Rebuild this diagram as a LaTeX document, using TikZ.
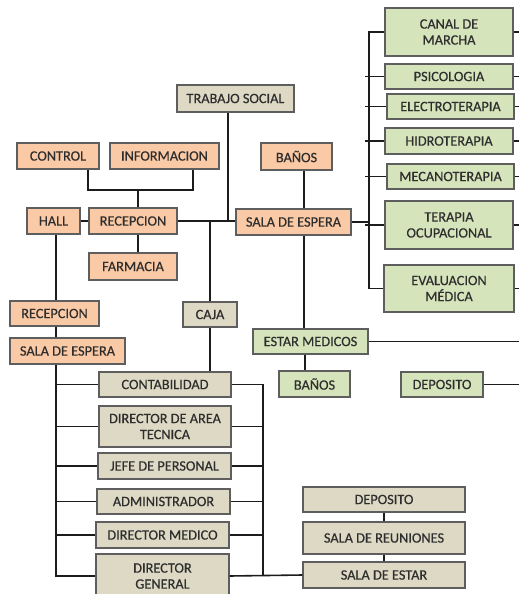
\documentclass[tikz,border=0pt]{standalone}
\usepackage{fontspec}
\setmainfont{Carlito}
\newfontfamily\boxfont{Carlito}[FakeBold=0.5]
\definecolor{orfill}{HTML}{FAC9A5}
\definecolor{grfill}{HTML}{D6E4BC}
\definecolor{tnfill}{HTML}{DDD9C4}
\definecolor{boxline}{HTML}{5E5E5E}
\definecolor{txt}{HTML}{2E2E2E}
\definecolor{wirec}{HTML}{1C1C1C}
\begin{document}
\begin{tikzpicture}[x=1pt,y=-1pt,
  box/.style={draw=boxline, line width=1.1pt, inner sep=0pt, align=center, text=txt,
    font=\boxfont\fontsize{14.3}{16}\selectfont},
  ob/.style={box, fill=orfill},
  gb/.style={box, fill=grfill},
  tb/.style={box, fill=tnfill},
  wire/.style={line width=1.6pt, draw=wirec}]
\useasboundingbox[fill=white] (0,0) rectangle (519,594);

% ---- orange boxes
\node[ob, minimum width=82pt, minimum height=26pt] (control) at (58,156) {CONTROL};
\node[ob, minimum width=109pt, minimum height=26pt] (info) at (164.5,156) {INFORMACION};
\node[ob, minimum width=71pt, minimum height=27pt] (banosA) at (296.5,156.5) {BAÑOS};
\node[ob, minimum width=53pt, minimum height=26pt] (hall) at (53.5,221) {HALL};
\node[ob, minimum width=88pt, minimum height=26pt] (recep) at (133,221) {RECEPCION};
\node[ob, minimum width=115pt, minimum height=26pt] (salaA) at (293.5,222) {SALA DE ESPERA};
\node[ob, minimum width=88pt, minimum height=27pt] (farm) at (133,266.5) {FARMACIA};
\node[ob, minimum width=89pt, minimum height=25pt] (recepB) at (54.5,313.5) {RECEPCION};
\node[ob, minimum width=115pt, minimum height=26pt] (salaB) at (67.5,351) {SALA DE ESPERA};

% ---- tan boxes
\node[tb, minimum width=117pt, minimum height=27pt] (trabajo) at (235.5,98.5) {TRABAJO SOCIAL};
\node[tb, minimum width=54pt, minimum height=25pt] (caja) at (210,314.5) {CAJA};
\node[tb, minimum width=132pt, minimum height=25pt] (contab) at (165,384.5) {CONTABILIDAD};
\node[tb, minimum width=132pt, minimum height=41pt] (areatec) at (165,426.5) {DIRECTOR DE AREA\\TECNICA};
\node[tb, minimum width=133pt, minimum height=26pt] (jefe) at (164.5,466) {JEFE DE PERSONAL};
\node[tb, minimum width=133pt, minimum height=25pt] (admin) at (163.5,501.5) {ADMINISTRADOR};
\node[tb, minimum width=133pt, minimum height=26pt] (dirmed) at (162.5,535) {DIRECTOR MEDICO};
\node[tb, minimum width=133pt, minimum height=44pt, text depth=0pt] (dirgen) at (162.5,576) {DIRECTOR\\GENERAL};
\node[tb, minimum width=162pt, minimum height=25pt] (depoB) at (384,499.5) {DEPOSITO};
\node[tb, minimum width=162pt, minimum height=32pt] (reun) at (384,538) {SALA DE REUNIONES};
\node[tb, minimum width=162pt, minimum height=26pt] (estar) at (384,575) {SALA DE ESTAR};

% ---- green boxes
\node[gb, minimum width=128pt, minimum height=48pt] (canal) at (449,32) {CANAL DE\\MARCHA};
\node[gb, minimum width=128pt, minimum height=25pt] (psico) at (449,76.5) {PSICOLOGIA};
\node[gb, minimum width=127pt, minimum height=25pt] (electro) at (450.5,106.5) {ELECTROTERAPIA};
\node[gb, minimum width=128pt, minimum height=26pt] (hidro) at (449,141) {HIDROTERAPIA};
\node[gb, minimum width=127pt, minimum height=25pt] (meca) at (450.5,176.5) {MECANOTERAPIA};
\node[gb, minimum width=128pt, minimum height=48pt] (terapia) at (449,225) {TERAPIA\\OCUPACIONAL};
\node[gb, minimum width=130pt, minimum height=47pt] (eval) at (449,288.5) {EVALUACION\\MÉDICA};
\node[gb, minimum width=115pt, minimum height=25pt] (estarmed) at (310.5,341.5) {ESTAR MEDICOS};
\node[gb, minimum width=71pt, minimum height=26pt] (banosB) at (314.5,384) {BAÑOS};
\node[gb, minimum width=82pt, minimum height=25pt] (depoA) at (442,384.5) {DEPOSITO};

% ---- junction coordinates
\coordinate (cA) at (88,190);
\coordinate (cB) at (193,190);
\coordinate (cR) at (138,190);
\coordinate (jT) at (228,222);
\coordinate (jC) at (210,222);
\coordinate (xS) at (304,0);
\coordinate (xE) at (305,0);
\coordinate (xL) at (56,0);
\coordinate (xR) at (263,0);
\coordinate (xM) at (384,0);
\coordinate (busTop) at (369,32);
\coordinate (busBot) at (369,288.5);
\coordinate (busMid) at (369,222);
\coordinate (edge) at (519,0);

% ---- connectors (left / centre)
\draw[wire] (control.south -| cA) -- (cA) -- (cB) -- (info.south -| cB);
\draw[wire] (cR) -- (recep.north -| cR);
\draw[wire] (recep.south -| cR) -- (farm.north -| cR);
\draw[wire] (hall.east) -- (recep.west);
\draw[wire] (recep.east) -- (recep.east -| salaA.west);
\draw[wire] (trabajo.south -| jT) -- (jT);
\draw[wire] (jC) -- (caja.north -| jC);
\draw[wire] (caja.south -| jC) -- (contab.north -| jC);
\draw[wire] (banosA.south -| xS) -- (salaA.north -| xS);
\draw[wire] (salaA.south -| xS) -- (estarmed.north -| xS);
\draw[wire] (estarmed.south -| xE) -- (banosB.north -| xE);
\draw[wire] (estarmed.east) -- (estarmed.east -| edge);
\draw[wire] (depoA.east) -- (depoA.east -| edge);

% ---- therapy bus
\draw[wire] (salaA.east) -- (busMid);
\draw[wire] (canal.west) -- (busTop) -- (busBot) -- (eval.west);
\foreach \n in {psico,electro,hidro,meca,terapia}
  \draw[wire] (\n.west -| 365,0) -- (\n.west);
\foreach \n in {canal,psico,electro,hidro,meca,terapia,eval}
  \draw[wire] (\n.east) -- (\n.east -| edge);

% ---- administration
\draw[wire] (hall.south -| xL) -- (recepB.north -| xL);
\draw[wire] (recepB.south -| xL) -- (salaB.north -| xL);
\draw[wire] (salaB.south -| xL) |- (dirgen.west);
\foreach \n in {contab,areatec,jefe,admin,dirmed}
  \draw[wire] (\n.west -| xL) -- (\n.west);
\draw[wire] (contab.east) -| (dirgen.east -| xR);
\foreach \n in {areatec,jefe,admin,dirmed}
  \draw[wire] (\n.east) -- (\n.east -| xR);
\draw[wire] (dirgen.east) -- (estar.west);
\draw[wire] (depoB.south -| xM) -- (reun.north -| xM);
\draw[wire] (reun.south -| xM) -- (estar.north -| xM);
\end{tikzpicture}
\end{document}
